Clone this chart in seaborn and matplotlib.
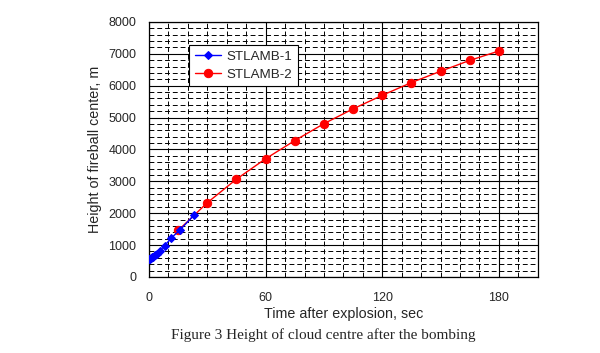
import matplotlib
matplotlib.use("Agg")
import matplotlib.pyplot as plt
import seaborn as sns
import pandas as pd
from matplotlib.ticker import MultipleLocator

sns.set_style("white")
plt.rcParams['font.family'] = ['Liberation Sans', 'DejaVu Sans']

t1 = [0, 0.5, 1, 1.5, 2, 3, 4, 5.5, 8, 11.5, 16, 23]
h1 = [560, 580, 600, 620, 640, 680, 720, 820, 980, 1225, 1480, 1930]
t2 = [15, 30, 45, 60, 75, 90, 105, 120, 135, 150, 165, 180]
h2 = [1460, 2330, 3070, 3710, 4280, 4810, 5275, 5700, 6100, 6455, 6795, 7090]
x_ticks = [0, 60, 120, 180]
y_ticks = [0, 1000, 2000, 3000, 4000, 5000, 6000, 7000, 8000]

df1 = pd.DataFrame({"t": t1, "h": h1})
df2 = pd.DataFrame({"t": t2, "h": h2})

fig = plt.figure(figsize=(6, 3.53), dpi=100)
ax = fig.add_axes([0.2483, 0.2153, 0.648, 0.7224])

ax.set_xlim(0, 200)
ax.set_ylim(0, 8000)
ax.xaxis.set_major_locator(MultipleLocator(60))
ax.xaxis.set_minor_locator(MultipleLocator(10))
ax.yaxis.set_major_locator(MultipleLocator(1000))
ax.yaxis.set_minor_locator(MultipleLocator(200))
ax.grid(which='minor', color='black', linestyle=(0, (5, 3)), linewidth=0.7)
ax.grid(which='major', color='black', linestyle='-', linewidth=0.8)
ax.set_axisbelow(True)

sns.lineplot(data=df2, x="t", y="h", ax=ax, color='#ff0000', marker='o', markersize=6,
             markeredgecolor='#ff0000', linewidth=1, label='STLAMB-2', zorder=3)
sns.lineplot(data=df1, x="t", y="h", ax=ax, color='#0000ff', marker='D', markersize=4,
             markeredgecolor='#0000ff', linewidth=1, label='STLAMB-1', zorder=4)

ax.set_xticks(x_ticks)
ax.set_yticks(y_ticks)
ax.tick_params(axis='both', which='both', length=0, labelsize=9)
ax.tick_params(axis='x', pad=11)
ax.tick_params(axis='y', pad=9)
for s in ax.spines.values():
    s.set_color('black')
    s.set_linewidth(0.9)

ax.set_xlabel("Time after explosion, sec", fontsize=10.3, labelpad=2)
ax.set_ylabel("Height of fireball center, m", fontsize=10.3, labelpad=5)

handles, labels = ax.get_legend_handles_labels()
order = [labels.index('STLAMB-1'), labels.index('STLAMB-2')]
leg = ax.legend([handles[i] for i in order], [labels[i] for i in order],
                loc='upper left', bbox_to_anchor=(0.087, 0.935), fontsize=9.6,
                frameon=True, fancybox=False, framealpha=1, edgecolor='black',
                borderpad=0.4, handlelength=2.0, labelspacing=0.4, handletextpad=0.4)
leg.get_frame().set_linewidth(0.8)

fig.text(0.539, 0.051, "Figure 3 Height of cloud centre after the bombing",
         ha='center', va='center', fontsize=11, family=['Liberation Serif', 'DejaVu Serif'])

fig.savefig("out.png", dpi=100)
